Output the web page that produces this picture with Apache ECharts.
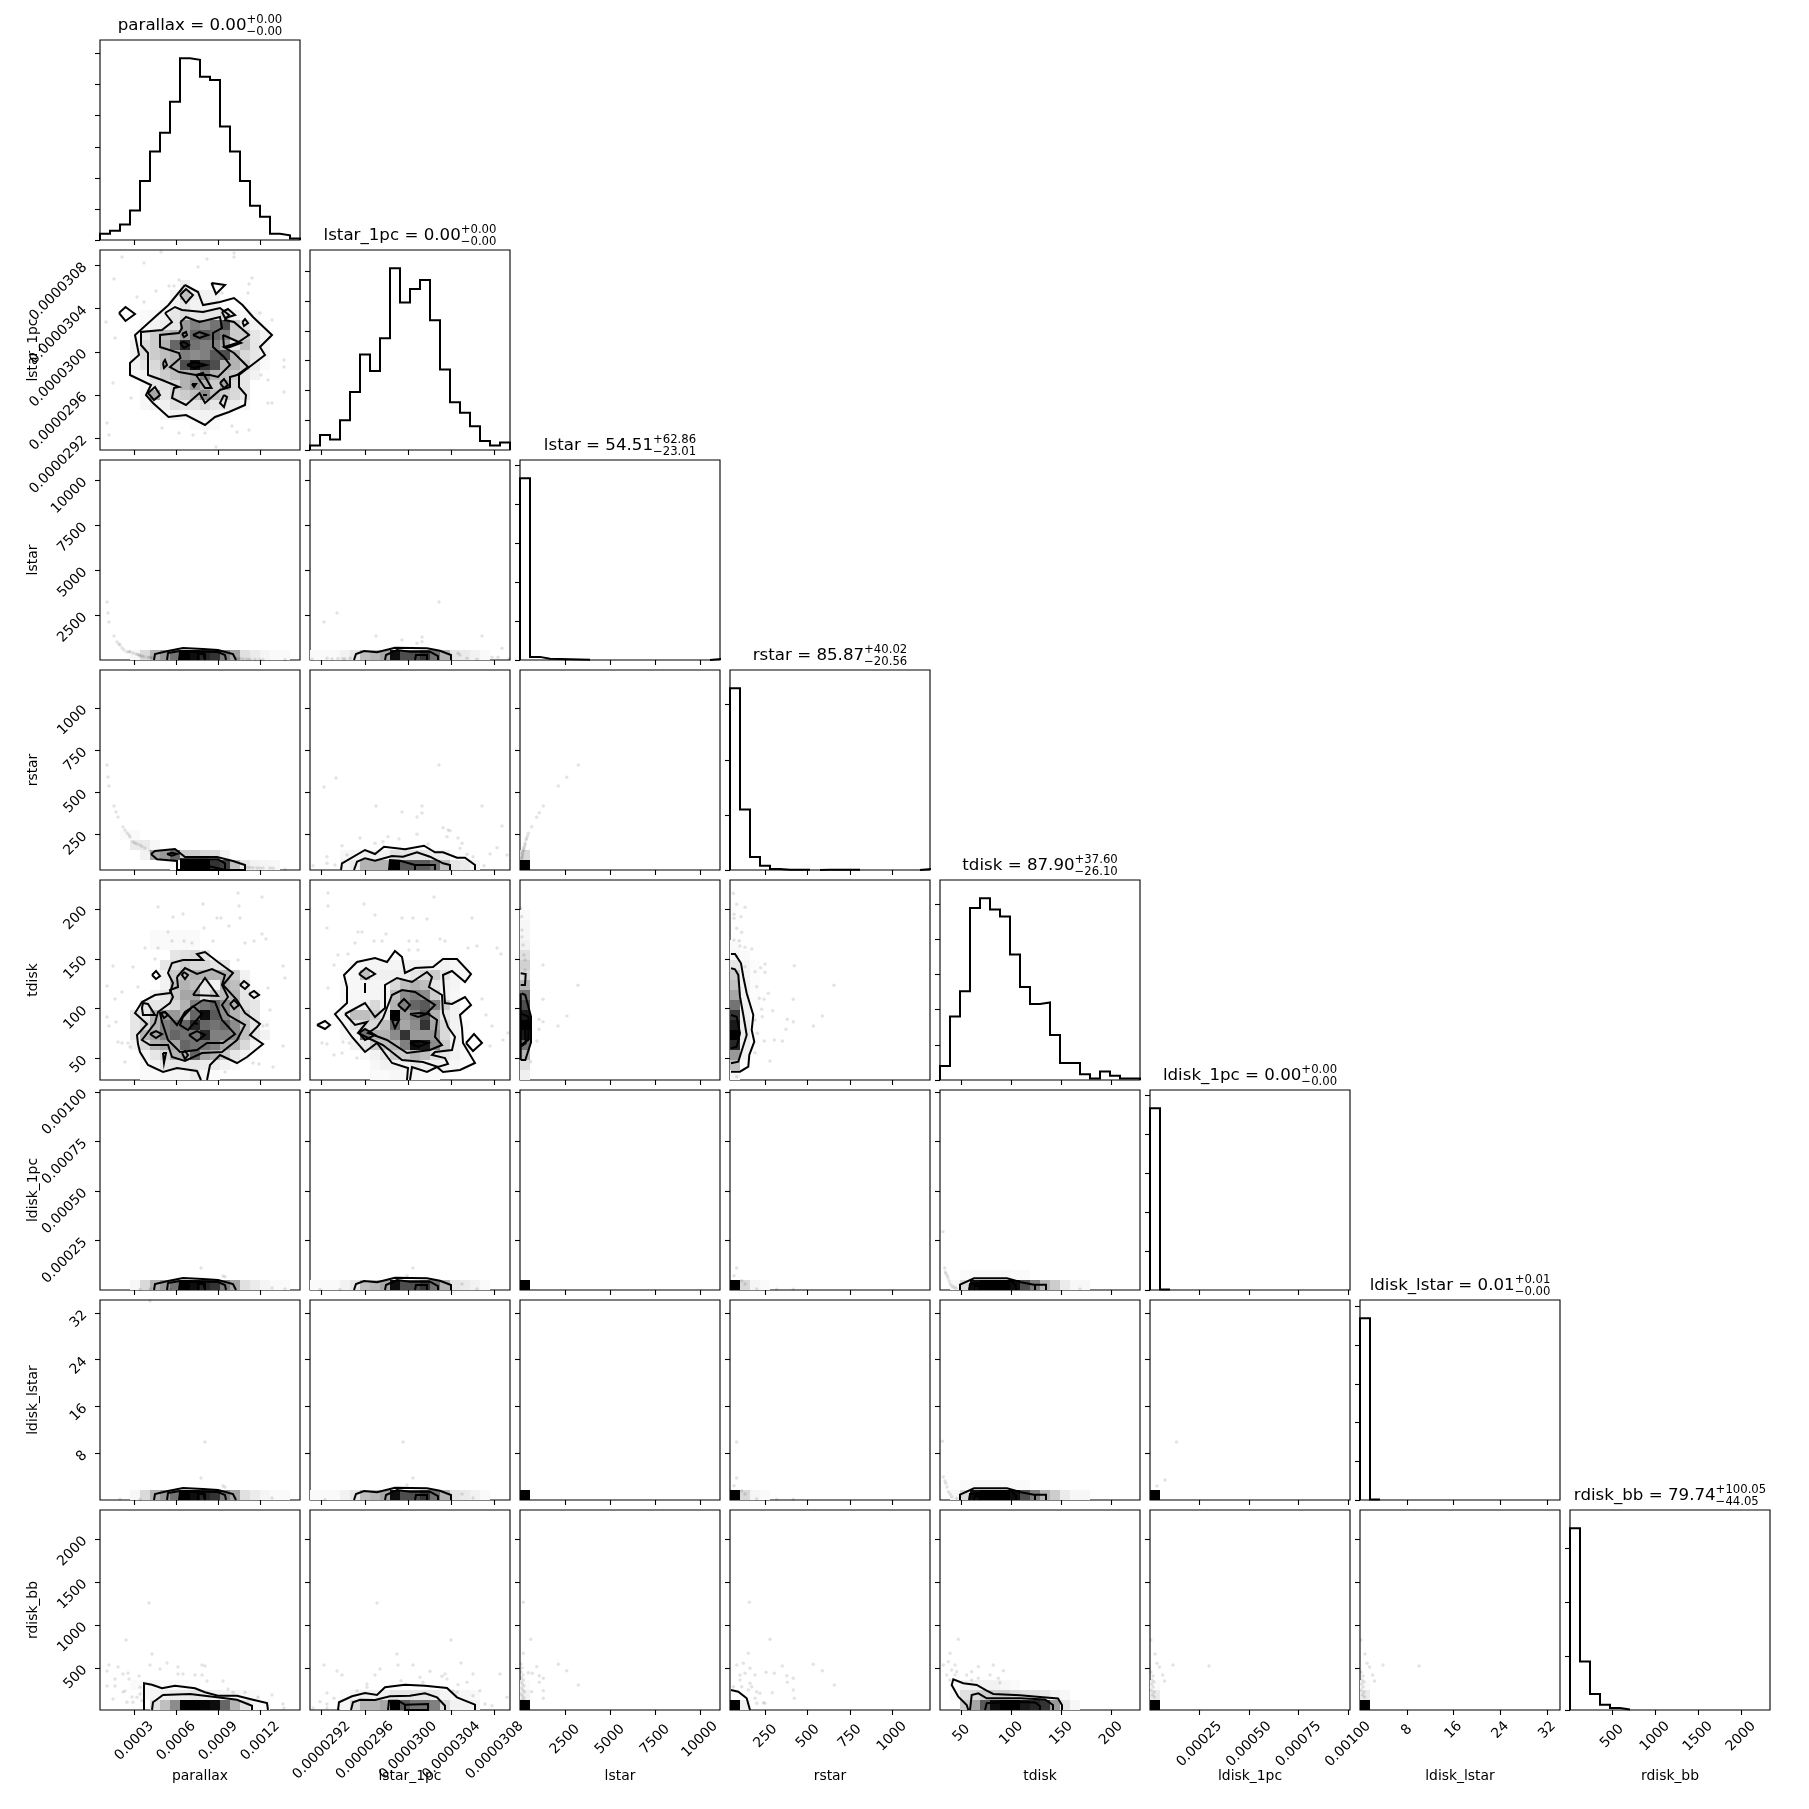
<!DOCTYPE html>
<html><head><meta charset="utf-8">
<style>html,body{margin:0;padding:0;background:#fff}#c{width:1809px;height:1809px}</style>
<script src="https://cdn.jsdelivr.net/npm/echarts@6/dist/echarts.min.js"></script>
</head><body><div id="c"></div>
<script>
// ---------- variables and axes ----------
const names=['parallax','lstar_1pc','lstar','rstar','tdisk','ldisk_1pc','ldisk_lstar','rdisk_bb'];
const medians=['0.00','0.00','54.51','85.87','87.90','0.00','0.01','79.74'];
const plusErr=['+0.00','+0.00','+62.86','+40.02','+37.60','+0.00','+0.01','+100.05'];
const minusErr=['\u22120.00','\u22120.00','\u221223.01','\u221220.56','\u221226.10','\u22120.00','\u22120.00','\u221244.05'];
const axisMin=[0.000055,0.000029092,10,39,28.5,0,0,12];
const axisMax=[0.0014836,0.0000309417,11120,1225,229,0.00101,34.2,2337];
const tickValues=[[0.0003,0.0006,0.0009,0.0012],[0.0000292,0.0000296,0.00003,0.0000304,0.0000308],[2500,5000,7500,10000],[250,500,750,1000],[50,100,150,200],[0.00025,0.0005,0.00075,0.001],[8,16,24,32],[500,1000,1500,2000]];
const tickLabels=[['0.0003','0.0006','0.0009','0.0012'],['0.0000292','0.0000296','0.0000300','0.0000304','0.0000308'],['2500','5000','7500','10000'],['250','500','750','1000'],['50','100','150','200'],['0.00025','0.00050','0.00075','0.00100'],['8','16','24','32'],['500','1000','1500','2000']];

// ---------- 1D histograms (counts in 20 bins) ----------
const histParallax=[4,6,10,19,38,57,69,89,117,116,105,103,73,57,38,22,15,4,3,1];
const histLstar1pc=[3,10,7,20,39,64,53,75,122,99,108,114,87,54,32,25,16,6,3,5];
const histLstar=[932,16,6,5,4,3,1,0,0,0,0,0,0,0,0,0,0,0,0,5];
const histRstar=[660,220,47,15,4,1,1,1,0,1,1,1,1,0,0,0,0,0,0,3];
const histTdisk=[10,45,63,122,129,121,116,89,66,54,55,32,12,12,4,1,6,3,1,1];
const histLdisk1pc=[936,3,0,0,0,0,0,0,0,0,0,0,0,0,0,0,0,0,0,0];
const histLdiskLstar=[940,3,0,0,0,0,0,0,0,0,0,0,0,0,0,0,0,0,0,0];
const histRdisk=[674,180,59,19,7,2,0,0,0,0,0,0,0,0,0,0,0,0,0,0];
const histograms=[histParallax,histLstar1pc,histLstar,histRstar,histTdisk,histLdisk1pc,histLdiskLstar,histRdisk];
const histTicks=[[0,20,40,60,80,100,120],[0,20,40,60,80,100,120],[0,200,400,600,800,1000],[0,200,400,600],[0,25,50,75,100,125],[0,200,400,600,800,1000],[0,200,400,600,800,1000],[0,200,400,600]];

// ---------- 2D panels: cells are [binY, firstBinX, darkness% ...]; contours and points are in histogram-bin units ----------
const cellsL1Par=[[16,8,8],[15,7,5,25,8,5,5],[14,6,3,5,10,5,5,5],[13,4,2,3,5,10,15,10,10,10,15,5,3,3],[12,4,2,5,8,10,40,50,45,55,70,20,10,5,2],[11,3,2,10,20,25,30,40,60,65,60,50,20,20,10,5],[10,3,5,15,20,30,60,85,55,50,50,35,10,25,10,5],[9,3,5,15,20,25,30,50,45,50,65,70,30,15,10,5],[8,3,5,10,15,25,30,70,95,80,70,30,30,20,8,2],[7,3,3,5,12,20,25,30,35,50,30,25,20,10,5],[6,4,3,10,12,15,30,40,30,20,35,15,10],[5,4,3,35,10,15,20,25,45,25,20,15,10],[4,4,3,5,6,12,10,10,15,10,10,8,3],[3,6,3,5,4,4,5,5,3],[2,9,2,3,2]];
const contL1Par=[
[8.5,16.5,9.8,15.8,10.3,14.5,12,14.8,13.4,15.2,14.25,14.5,15.3,13.3,17.2,11.5,16,10.3,16.5,9.5,14.8,8.2,13.9,7.5,13.9,6.3,14.6,5.5,14.5,4.5,12.9,3.8,11.5,3.3,10.5,2.5,8.6,3.5,6.85,3.3,5.3,4.7,4.6,5.5,5.1,6.5,3,7.5,3,8.7,3.9,9.5,3.5,11.5,5.5,13.3,6.85,14.5],
[6.5,13.7,7.5,14.3,8.2,14,10.3,13.8,12,14.2,12.9,13.5,12.5,13,13.4,12.8,14.9,11.5,13.7,10.7,12.4,10.3,13.4,9.7,14.8,8.3,13.7,7.5,13,7.3,13,6.3,12,6,10.5,4.7,9.95,5.7,8.6,4.5,7.2,5.2,7.4,6.2,7.9,6.3,6.2,7,4.8,7.5,4.8,9.7,4.1,10.5,4.1,11.8,6.2,12,7.2,12.8],
[8.05,12.8,8.6,13.3,9.95,12.8,12,13.3,12.2,12.2,11.3,11.7,11.3,10.3,12.4,9.3,13,8.5,11.8,7.3,11,7.5,9.6,7.5,7.9,7.8,7,8.3,8.05,9.2,7.9,9.7,6,10.3,6,11.5,7.9,11.7,8.2,12.2],
[9.3,11.5,9.95,11.8,10.8,11.5,9.95,11.2],[8,10.7,8.4,10.8,8.9,10.5,8.4,10.2],[6.3,8.7,6.5,9,6.7,8.5,6.4,8.2],[8.7,8.5,9.4,8.8,10.6,8.5,9.4,8.2],[8.2,11.6,8.6,11.8,8.7,11.5,8.4,11.3],[12.3,11.5,14.1,10.7,13,10.3,12.4,10.3],[8,15.5,8.6,16.1,9.3,15.5,8.6,14.7],[11.15,16.7,12.5,16.5,11.6,15.6],[1.9,13.7,2.55,14.3,3.5,13.6,2.55,12.9],[12.2,13.8,12.8,14.1,13.5,13.5,12.5,13.2],[14.25,12.8,14.5,13.1,14.8,12.7,14.4,12.4],[9.6,7.5,10.3,7.7,11.15,6.2,10.5,6.2],[9.2,6.6,9.6,6.6,9.4,6.3],[12,6.7,12.4,7.1,12.8,6.5,12.4,6.2],[4.8,5.7,5.5,6.3,6,5.5,5.4,5],[10.3,5.5,10.7,5.5],[12.4,5.5,12.7,5.3,12.4,4.3,12,4.7]];
const ptsL1Par=[2.2,19.3,6.1,19.8,13.4,19.7,13.4,19.3,4.4,18.7,9.8,18.3,10.7,19.1,1.4,17.1,7.9,17,15.2,17.2,5.6,15.9,6.9,16.4,7.4,16.4,14.9,16.6,14.8,15.7,12.2,15.7,3.7,15.3,4.4,14.8,17.2,13,16,13.7,.6,12.8,1.5,11.2,17,11.3,1.3,6.7,18.4,9,18.4,8.3,16.8,7,16.1,7.5,18.4,5.8,3.1,5.2,16.8,4.7,17.2,4.7,.7,2.7,.9,1.5,6.2,2.2,7.9,1.7,9.3,1.5,10.5,1.7,13.7,1.8,14.9,2,11.6,.3,13.2,2.4];

const cellsTdPar=[[14,5,2,2,2,2,2],[13,5,2,2,2,2,2],[12,7,10,12,15,10],[11,6,10,12,20,15,15,10,10],[10,6,5,20,25,30,30,30,30,20,5],[9,6,5,25,30,25,10,5,30,25,10],[8,5,5,10,20,35,35,10,20,25,30,10,5],[7,4,10,10,10,15,30,50,55,60,45,30,12,10],[6,3,10,10,30,40,40,30,60,95,65,45,30,20,10],[5,3,10,15,30,50,55,60,85,60,55,60,45,25,10,2],[4,3,10,30,35,50,60,55,55,85,50,50,45,25,10,5],[3,3,5,15,30,35,35,60,55,55,50,35,30,15,5],[2,4,5,10,15,30,30,60,35,30,20,10,5],[1,4,3,5,10,10,10,10,8,8,5,3],[0,4,2,2,3,4,4,8,3,2]];
const contTdPar=[
[10.1,0,9.7,.9,7.7,1.2,6.3,.8,4.8,1.5,4,2.8,3.8,3.6,3.7,4.5,4.7,5.6,3.5,6.7,4.2,7.8,5.5,8.5,7,8.7,7.3,9.7,6.8,10.7,7.2,11.7,8.3,12,10.3,12,9.7,12.6,10.5,12.8,11.8,11.8,13.3,10.7,12.3,9.5,13.7,8,14.5,6.7,16,5.6,15,4.5,16.3,3.6,14.7,2.3,13.7,1.7,12,2.5,11,1.5,10.7,0],
[7.7,10.3,8.5,11.2,9.7,10.6,11.2,11.1,12.5,10.5,12.2,9.5,12.8,8.3,12.2,7.5,12.8,6.5,14.5,5.5,13.7,4,12.2,2.8,10.2,2.7,8.5,1.9,7.2,2.3,6.8,3.5,5,3.5,4.2,4,5.5,5.7,5.8,6.8,7,7.7,7.3,8.3,7,9,7.8,9.3],
[10.3,8,11.5,7.8,12.2,6,13.5,4.6,12.3,3.7,10.7,3.7,9.7,3,8,2.8,6.8,4,6.2,5.8,6,6.7,6.5,6.8,7,6.3,7.7,5.5,8.5,6.8],
[9.3,7.4,10.2,6.6,9.5,5.8,8.8,5,8,5.5,8.3,6.3],
[5.2,10.5,5.6,10.9,6,10.4,5.6,10.1],[14,9.5,14.4,9.9,14.9,9.5,14.5,9.1],[14.9,8.6,15.4,8.9,15.9,8.5,15.4,8.2],[13,7.6,13.4,8,13.9,7.5,13.4,7.1],[9.3,8.5,10.5,10.2,11.8,8.4],[8.4,10.8,8.8,10.5,8.5,10.1,8.2,10.5],[4.3,7.7,4.8,7.6,5.5,6.5,4.3,6.5,4.2,7.2],[6.1,6.7,6.5,6.8,6.8,6.5,6.4,6.2],[5,4.6,5.6,4.9,6.2,4.6,5.6,4.2],[8.9,4.5,9.7,4.9,10.5,4.5,9.7,3.9],[8.2,2.7,8.5,2.9,8.8,2.5,8.5,2.1],[6.3,2.7,6.6,2.7,6.4,1.7],[9.4,5.7,9.8,5.6]];
const ptsTdPar=[5.8,17.3,10.3,17.6,13.8,18.7,16.2,18.3,13.9,17.4,7.3,16.3,8.3,16.6,11.7,16.2,12.1,16.2,12.9,15.4,14,16.2,6.8,14.8,10.4,15.2,16.2,14.6,5.8,13.2,4.5,13.2,7.2,13.9,8.4,13.9,9.2,13.7,11.3,13.9,14.5,13.7,15.4,13.9,16.6,14.1,13.8,12,3.3,11.3,1.3,11.4,18.3,11.4,5.5,12.1,18.5,10.2,16.8,9.2,.7,9.4,2.2,8.8,1.5,8.1,3.8,9.3,16.3,5.4,17,7,16.7,5.5,18.3,3.4,17.3,1.3,15.9,1.6,15.3,1.7,12.5,.8,2.5,1.8,1.8,3.8,2.2,3.7,.9,5.4,1.6,5.8,.7,6.3,3,3.3,2.8,3.7];

const cellsTdL1=[[11,4,3,4,4,4,4,5,5,4,4,5,3,3],[10,3,0,3,25,6,6,6,6,10,15,20,10,4,3],[9,3,3,3,4,4,4,15,25,30,25,10,5,4],[8,3,3,3,4,4,5,25,45,50,45,20,5,3],[7,3,3,4,6,15,6,30,50,60,65,50,20,5],[6,2,2,5,25,25,20,10,100,40,50,70,30,10,5],[5,3,4,10,15,15,25,60,35,45,80,35,15,5,2],[4,3,3,5,55,30,30,45,80,40,40,40,15,5],[3,4,5,10,20,25,30,50,95,90,45,20,5,3],[2,5,3,5,10,20,20,30,25,12,10,5,3],[1,6,3,5,5,5,10,6,6,4,3,2],[0,6,2,2,3,3,3,2,2]];
const contTdL1=[
[9.7,0,9.8,1.2,8.2,1.7,6.7,3.7,5.5,2.8,4.2,4.3,3.2,5.7,2.5,6.6,3.7,7.7,3.7,9.3,3.4,10.5,4.7,11.8,6.5,12.2,7.7,11.8,8.5,12.9,9.2,12.3,9.5,10.7,10.5,11.2,12.3,11.3,13.3,12.1,14.7,12.1,16.1,10.6,15.5,9.8,14.2,10.9,13.3,10.5,13.5,7.7,14.2,7.6,15.5,8.3,16.1,7.5,15,6.5,15.2,5.2,15.3,3.7,16.5,1.7,15,1,13.3,.8,12.7,1.3,11.7,.8,10.2,1.3,10,0],
[3.5,6.6,5.5,7.7,6.5,6.3,7.5,7.2,7.5,9.5,8.7,10.2,10.2,9.8,11.7,10.8,12.2,10.3,11.9,9.3,13.2,8.5,13.3,6.7,13.8,5.3,14.5,4.3,14.2,3,12.5,2.8,12.2,2.5,13.5,2.2,13.8,1.6,12.8,1.3,11.3,1.8,9.2,2,7.3,3.5,5.8,4.2,4.8,4.7,5.7,5.8,4.5,5.5],
[7.3,6.2,8.2,8.5,9.2,9,10.5,8.8,12.5,7.5,11.7,6.7,12.7,6,12.5,4.3,13.2,3.5,12,3,9.7,2.7,7.7,4,5.8,4.7,6.7,5.3],
[4.9,4.7,5.5,5.1,6.5,4.5,5.5,4],[8.8,7.5,9.4,8.1,10,7.5,9.5,6.9],[10,6.6,11,6.7,11.7,6.6,10.8,6.3],[10,3.7,10.8,3.9,11.8,3.7,10.8,3.3],[5.5,9.7,5.5,8.7],[.7,5.5,1.5,5.9,2,5.5,1.5,5.1],[4.9,10.6,5.6,11.2,6.5,10.6,5.6,10.1],[15.6,3.7,16.4,4.6,17.2,3.7,16.3,2.9],[8.2,6,8.5,5.2,8.9,6]];
const ptsTdL1=[1.8,18.7,12.4,18.3,1.8,17.4,5.4,17.6,6.5,16.5,1.7,15.2,4.8,14.8,5.2,14.8,7.6,14.6,9.2,16.2,10.3,16.2,11.7,16.1,16.2,16.2,4.5,13.7,6.4,13.9,7.2,13.9,9.9,13.9,10.7,13.9,13,14.1,13.5,13.9,15.8,13.2,16.7,13.4,18.7,13.2,19.1,12.6,9.9,13,10.8,13,3.8,12.6,2.8,12.5,2.4,11.5,1.8,9.2,17.2,8.1,17.6,6.5,18.2,5.4,19.8,4.7,19.3,4,18,3.4,2.4,2.5,3.2,2.7,1.2,3.7,1.7,3.6,3.3,3.8,3.9,3.7,4.7,2.2];

const cellsLowPar=[[0,3,3,15,30,40,55,100,95,85,80,50,35,12,8,4,2,2]];
const cellsLowL1=[[0,0,2,2,2,5,10,25,28,35,95,70,70,80,55,30,10,8,5,2]];
const contLowPar=[[5.4,0,5.5,.6,6.8,.9,8.3,1.2,10.3,1.1,11.8,1,13.3,.6,13.6,0],[6.7,0,6.8,.7,8,.9,11.8,.8,12.5,.5,12.6,0],[7.9,0,8,.8,10.3,.8,10.5,0],[9.8,0,9.8,.6,10.5,.6,10.5,0]];
const contLowL1=[[4.4,0,4.6,.6,5.4,.9,6.7,.77,8.5,1.23,11.7,1.17,13,.93,14.1,.5,14.1,0],[7.5,0,7.6,.5,8.7,1,10,.83,12,.83,12.8,.4,12.8,0],[10.5,0,10.6,.5,11.7,.5,11.7,0]];
const ptsLstarPar=[.7,5.8,.8,4.7,.9,3.8,1.4,2.4,1.7,1.8,2.2,1.2,2.7,.8,3.3,.7,4,.4,4.8,.27,13.7,.13,14.7,.07,16.3,.03,18.5,.02,1.9,1.6,2,1.5,2.4,1,2.9,.85,3,.8,3.6,.6,3.8,.55,3.9,.5,4.4,.33,4.2,.4,5,.25,5.2,.22,14,.15,14.3,.1,15,.07,15.5,.05,16,.05];
const ptsLstarL1=[12.9,5.8,2.7,4.7,1.4,3.8,6.6,2.4,9.2,2,11.2,2.3,11.2,1.83,17.2,2.4,10.7,1.67,19.2,1.17,14.8,.67,15,.5,15.7,.17,16.7,.07,.2,.07,1.7,.17,3.3,.13,4,.17,19.9,.13,18.2,.27,18.8,.27,2.2,.1,2.8,.15,3.5,.1];

const cellsRsPar=[[3,2,2,2],[2,3,8,8,3],[1,4,5,35,40,60,20,20,15,15,5],[0,7,2,100,100,100,80,75,25,10,5,4,3]];
const contRsPar=[[5.1,1.6,5.5,1.9,7.5,2.1,8.5,1.3,11.7,1.3,13.3,.9,14.5,.5,14.5,0,7.7,0,7.7,.9,5.7,1.07],[8,1.07,11.8,1.07,12.5,.67,12.5,0],[9.8,0,10,.5,10.5,.57,10.5,0],[6.7,1.6,7.2,1.73,7.7,1.6,7.2,1.43]];
const ptsRsPar=[.7,10.5,.8,9.3,.9,8.4,1.4,6.4,1.6,5.8,1.8,5.3,2.3,4.3,2.7,3.7,3,3.3,3.3,2.8,4,2.5,4.5,2.2,5,1.9,14.7,.27,15.3,.23,16.3,.2,17.3,.17,18.5,.07,2.5,4,3.5,2.7,3.7,2.6,4.2,2.35,2.9,3.5,15,.25,15.7,.2,16,.2,17,.2];
const cellsRsL1=[[1,3,3,4,6,6,6,12,10,10,10,8,6],[0,3,5,8,30,30,30,100,65,65,65,55,25,10,8,5]];
const contRsL1=[[3.1,0,3.2,.67,5.5,2,6.5,1.6,7.4,2.33,9.5,2.07,11.4,2.43,12.5,1.77,13.3,1.77,14.7,1.23,15.5,1.23,16.5,.5,16.5,0],[4.4,0,4.7,.83,5.5,1.17,6.5,.93,8.2,1.4,9.3,1.33,10.7,1.77,12,1.33,13.3,.67,14,.5,14,0],[7.9,0,8,1,9,.93,10.5,.5,12.5,.5,12.5,0],[10.5,0,10.5,.5]];
const ptsRsL1=[12.9,10.5,2.6,9.2,1.4,8.3,6.6,6.4,9.2,5.8,11.2,6.4,11.2,5.7,17.2,6.4,10.7,5.3,19.2,4.4,5,3.2,3.2,2.43,3.7,1.5,7.8,3.33,8.9,3.1,11.8,2.6,13.3,4.23,13.8,4,13.7,3.33,14,3.93,14.8,3.2,15.2,2.67,15,2.17,18.7,2.23,19.7,1.5,16.3,1.33,15.7,1.57,18,1.6,17.4,.43,1.7,.67,1.7,1.33,.3,.43,2.5,.5,7.3,2.83,6.5,2.67,10.7,3.57];
const cellsCorner=[[0,0,100]];
const cellsRsLstar=[[1,0,15],[0,0,100]];
const ptsRsLstar=[5.83,10.5,4.67,9.27,3.83,8.4,2.33,6.4,1.93,5.73,1.67,5.27,1.17,4.33,.83,3.67,.67,3.17,.5,2.67,.33,2.17,.23,1.67,.17,1.17,.5,2.5,.45,2.3,.4,2,.3,1.9,.28,1.5,.2,1.3,.15,.9,.6,3,.75,3.4];

const cellsTdLstar=[[16,0,2],[15,0,3],[14,0,3],[13,0,5],[12,0,12],[11,0,18],[10,0,15],[9,0,30],[8,0,55],[7,0,70],[6,0,90],[5,0,100],[4,0,90],[3,0,55],[2,0,30],[1,0,12],[0,0,6]];
const contTdLstar=[[.07,2,.53,2,1.1,3.77,1.1,6.33,.53,8.5,.17,8.67],[.07,9.5,.5,9.5,.57,10.6,.07,10.67],[.07,3.5,.83,4,.83,6.33,.07,6.67],[.07,5.5,.5,5.33,.57,3.67,.07,3.33],[.07,2,.07,8.67]];
const ptsTdLstar=[2.3,11.5,5.8,9.47,2.3,8.07,1.9,6.07,2.3,5.83,4.7,6.4,3.8,5.4,1.9,5.07,1.7,3.9,1.07,1.83,.17,16.33,.07,17.17,.2,14.3,.3,13.5,.4,12.5,.5,12,.2,15,.5,11];
const cellsTdRs=[[13,0,2],[12,0,3,2],[11,0,10,4,1],[10,0,20,4,1],[9,0,25,5,1],[8,0,35,5,1],[7,0,55,6,1],[6,0,80,6,1],[5,0,90,8,1],[4,0,100,8,1],[3,0,85,6,1],[2,0,40,5],[1,0,25],[0,0,3]];
const contTdRs=[[.1,.83,1,.83,1.83,1.33,1.93,2.5,2.43,3.83,2.17,5,2.33,6.5,1.67,8.67,1.33,10.33,1.1,11.67,.5,12.6,.1,12.6],[.1,1.67,.83,1.83,1.67,4.5,1.33,6.5,1,8.33,.83,10.5,.5,11.07,.1,11.17],[.1,3.17,.67,3.33,1,4.67,.67,6.33,.1,6.5]];
const ptsTdRs=[.33,18.67,.67,17.57,1.5,17.27,.4,16.57,1.1,16.33,.4,16.17,1.17,14.77,.67,15.17,.4,14,.93,13.93,1.5,13.27,1,13.4,2.17,13.1,.67,12.4,1.5,11.33,3.5,11.6,6.43,11.43,2.5,10.83,3.07,11.23,3.5,10.77,2.67,9.33,10.4,9.47,3.83,8.67,2.93,8.17,3.4,8.07,6.33,8.07,3.17,7.07,4.27,6.93,3.23,6.33,5.73,6.07,6.33,5.83,9.23,6.4,2.5,6,5.6,5.07,8.33,5.4,2.73,4.67,3.43,3.9,4.43,4,5.23,3.9,2.5,2.73,4,1.9,.67,.33];

const ptsL5Par=[10.1,2.2,12.3,1.4,12.5,1.33,17.2,.2,18.5,.1,5,.1,7,.05,4,.05];
const ptsL6Par=[10.5,5.8,10.1,2.2,12.3,1.43,12.5,1.27,17.2,.2,5,19.9,2,.07,4,.05];
const ptsL5L1=[10.3,2.2,9.7,1.43,15.2,.6,16.7,.1,1,.05,3,.05];
const ptsL6L1=[9.3,5.8,10.3,2.2,9.7,1.5,15.2,.6,16.3,.2,1.5,.05];
const cellsLowRs=[[0,0,100,15,4,2]];
const ptsLowRs=[.67,2.2,.4,1.43,1.17,.93,1.5,.6,2.67,.1,4.67,.07,6.33,.07];
const ptsL6Rs=[.67,5.8,.67,2.2,.4,1.43,1.17,.93,1.5,.6,2.67,.1,4.67,.07,6.33,.07];
const cellsLowTd=[[1,2,2,3,3,3,3,2,2],[0,1,3,15,95,100,100,100,95,70,50,30,20,8,3,3]];
const contLowTd=[[2,0,2,.53,3.4,1.17,6.7,1.17,8.1,.77,9.4,.53,10.6,.53,10.6,0],[2.9,0,3,.6,7.1,.93,7.6,.43,7.6,0],[9.5,0,9.5,.53],[3.4,0,3.5,.43,3.9,.43,4,0],[5,0,5,.43,5.5,.43,5.5,0]];
const ptsL5Td=[.3,5.83,.47,2.2,.73,1.43,1,.6,1.4,.27,14,.1,.53,1.8,.6,1.63,.8,1.2,.9,.9,1.2,.4,1.6,.17];
const ptsL6Td=[.23,5.87,.33,2.3,.6,1.67,.83,.83,1.17,.33,1.67,.17,.5,1.9,.7,1.3,1,.6];

const cellsRdPar=[[2,3,2,3,3,2,2,2],[1,4,3,4,6,8,8,10,8,6,5,4,2,2],[0,5,12,25,45,100,100,98,95,60,30,12,3,2]];
const contRdPar=[[4.4,0,4.4,2.67,5.2,2.53,6.2,2.17,7.5,2.43,9.5,2.17,10.5,1.77,11.8,1.43,13.7,1.43,15.3,1.03,16.7,.7,16.8,0],[5.2,0,5.3,.77,6.3,1.5,9,1.6,11.7,1.27,13.7,1.03,15.2,.43,15.2,0]];
const ptsRdPar=[4.9,10.7,2.6,7,5.2,5.6,.9,4.5,1.8,4.3,.7,3.9,2.8,3.7,2.3,3.6,3.9,3.4,6,4.1,5,4.5,6.7,4.7,7.8,4.3,10.2,4.5,10.5,4.4,8.3,3.6,7.8,3.6,9.5,3.5,10.2,3.5,10.7,2.9,12.3,2.9,1.5,3.1,.7,2.4,1.5,2.4,2.9,3.1,2.5,1.9,1.3,1.1,2.3,1.8,3.2,1.3,4,1.6,3.3,.77,2.7,.77,4,2.27,3.7,1.27,4.2,.93,12.8,2.1,13.3,1.77,17.2,1.5,15.8,1.27,18.3,.6,18.4,.2,14.5,1.77];
const cellsRdL1=[[1,3,2,4,6,6,6,10,10,10,10,8,4,3,3,2],[0,3,4,15,30,30,35,100,65,55,55,50,15,5,5,5]];
const contRdL1=[[2.8,0,2.9,.77,4.2,1.37,5.5,1.7,6.7,1.5,7.5,2.27,9.5,2.53,11.5,2.43,13.7,2.2,14.7,1.27,16.5,.53,16.5,0],[4.1,0,4.3,.77,5,1.03,6.5,1,8,1.37,10,1.43,11.5,1.67,12.7,1.27,13.5,.43,13.5,0],[7.8,0,7.9,.93,8.8,.93,9.5,.53,11.8,.6,11.8,0,9.5,0,9.5,.53]];
const ptsRdL1=[6.7,10.7,14.1,7,8.7,5.6,1.4,4.5,15.1,4.7,10.3,4.5,8.8,4.5,19,3.6,2.7,3.9,3.2,3.5,7,4.1,6.5,3.5,12,3.87,13.5,3.6,13.2,3.37,9.1,2.93,11,3.27,11.3,2.77,16.3,3.6,15.7,2.77,14.8,2.53,5.7,2.6,5.7,2.27,4.7,1.93,1.7,1.7,2.4,1.17,17,1.93,16.3,1.43,17.5,.6,19.7,1.27,1,.83,.3,.2,14.7,1.77,14.3,1.93,13.7,3.1,18.2,.43,1.7,.6,1.7,.2];
const cellsRdLstar=[[2,0,2],[1,0,5],[0,0,100]];
const ptsRdLstar=[.33,10.77,1.07,7.07,.33,5.67,1.67,4.33,3.83,4.57,4.67,3.93,.83,3.73,1.23,3.67,1.93,3.43,2.33,3.17,1.93,2.77,2.33,1.93,2.33,1.17,5.83,2.5,1.17,1.83,.1,4.6,.2,4.2,.1,3.8,.3,3.5,.15,3.2,.35,3,.1,2.8,.25,2.6,.4,2.4,.15,2.2,.3,2,.45,1.8,.1,1.6,.25,1.4,.4,1.2,.2,1,.35,.9];
const cellsRdRs=[[0,0,100,6]];
const contRdRs=[[.1,2,.83,1.83,1.67,1.17,2,0]];
const ptsRdRs=[1.93,10.77,4,7.07,1.83,5.67,1.33,4.67,.67,4.5,2,4.17,2.5,3.5,1.5,3.67,1,3,2,2.67,2.67,1.83,3.33,.73,3.6,3.77,4.43,3.67,5.23,4.4,5.67,3.43,6.33,3.17,5.73,2.77,4.23,1.73,6.33,2,6.43,1.17,8.33,4.57,9.23,3.93,10.43,2.5,3.5,.67,2.67,.67,3,1.67,2.5,1.17,1.17,2.33,1.83,2,2.17,2.33,1,3.5,.33,2.33];
const cellsRdTd=[[2,1,2,5,6,5,5,3,2],[1,1,3,12,15,20,20,20,15,12,12,10,5,3],[0,2,20,35,65,95,100,100,90,85,80,40,10,3]];
const contRdTd=[[2.83,0,2.67,.5,1.83,1.33,1.17,2.5,1.33,3.07,2.33,2.67,3.67,2.5,4.67,1.93,5.33,1.6,8,1.47,10,1.3,11.8,1.15,12.2,.5,12.2,0],[3,0,3.17,1.5,3.83,1.67,4.67,1.17,8,1.17,10.5,1.05,11.3,.5,11.3,0],[4.5,0,4.67,.67,7,.83,9.5,.75,10,.4,10,0]];
const ptsRdTd=[1.83,7.07,1,5.67,.33,4.5,.83,4.83,1.5,4.5,1.17,4,1.67,3.83,.67,3.5,1,3,1.5,3.5,3.83,4.33,5.33,4.5,6.33,3.93,5,3.5,5.83,3.17,6,2.73,2.67,3.5,3.17,3.83,3.83,3.17,3.17,3];
const cellsLdisk=[[2,0,2],[1,0,8],[0,0,100]];
const ptsRdLd=[.1,7,.5,5.6,.7,4.67,.95,4.3,1.27,3.5,1.45,2.9,2.3,4.5,5.9,4.4,.1,3.8,.3,3.4,.2,3,.4,2.8,.15,2.6,.3,2.3,.1,2,.4,1.8,.25,1.5,.45,1.3];
const ptsL6Ld=[2.65,5.8,.7,1.4,1.5,2];

const panels={
 '1,0':[cellsL1Par,contL1Par,ptsL1Par],
 '2,0':[cellsLowPar,contLowPar,ptsLstarPar],'2,1':[cellsLowL1,contLowL1,ptsLstarL1],
 '3,0':[cellsRsPar,contRsPar,ptsRsPar],'3,1':[cellsRsL1,contRsL1,ptsRsL1],'3,2':[cellsRsLstar,[],ptsRsLstar],
 '4,0':[cellsTdPar,contTdPar,ptsTdPar],'4,1':[cellsTdL1,contTdL1,ptsTdL1],'4,2':[cellsTdLstar,contTdLstar,ptsTdLstar],'4,3':[cellsTdRs,contTdRs,ptsTdRs],
 '5,0':[cellsLowPar,contLowPar,ptsL5Par],'5,1':[cellsLowL1,contLowL1,ptsL5L1],'5,2':[cellsCorner,[],[]],'5,3':[cellsLowRs,[],ptsLowRs],'5,4':[cellsLowTd,contLowTd,ptsL5Td],
 '6,0':[cellsLowPar,contLowPar,ptsL6Par],'6,1':[cellsLowL1,contLowL1,ptsL6L1],'6,2':[cellsCorner,[],[]],'6,3':[cellsLowRs,[],ptsL6Rs],'6,4':[cellsLowTd,contLowTd,ptsL6Td],'6,5':[cellsCorner,[],ptsL6Ld],
 '7,0':[cellsRdPar,contRdPar,ptsRdPar],'7,1':[cellsRdL1,contRdL1,ptsRdL1],'7,2':[cellsRdLstar,[],ptsRdLstar],'7,3':[cellsRdRs,contRdRs,ptsRdRs],'7,4':[cellsRdTd,contRdTd,ptsRdTd],'7,5':[cellsLdisk,[],ptsRdLd],'7,6':[cellsLdisk,[],ptsRdLd]
};

// ---------- build ----------
const FONT='"DejaVu Sans"';
const ctx=document.createElement('canvas').getContext('2d');
function tw(t,size){ctx.font=size+'px '+FONT;return ctx.measureText(t).width;}
const binX=(v,b)=>axisMin[v]+b*(axisMax[v]-axisMin[v])/20;
const STEP=210,SIZE=200,X0=100,Y0=40,TICK=13.9;
const grid=[],xAxis=[],yAxis=[],series=[],title=[];
const tickStyle={show:true,length:5,lineStyle:{color:'#000',width:1.1}};
function labelCfg(v,show,isY){
  const longest=Math.max(...tickLabels[v].map(t=>tw(t,TICK)));
  return {show,rotate:45,align:isY?'right':'center',verticalAlign:'middle',margin:isY?15:10+(longest+11)*0.3536,color:'#000',fontFamily:FONT,fontSize:TICK,hideOverlap:false,showMinLabel:true,showMaxLabel:true,
    customValues:tickValues[v],formatter:val=>{let k=0,b=1e99;tickValues[v].forEach((t,i)=>{const d=Math.abs(t-val);if(d<b){b=d;k=i;}});return tickLabels[v][k];}};
}
function renderCell(p,api){
  const a=api.coord([api.value(0),api.value(1)]),b=api.coord([api.value(2),api.value(3)]);
  const g=Math.round(255*(1-api.value(4)/100));
  return {type:'rect',shape:{x:a[0],y:b[1],width:b[0]-a[0],height:a[1]-b[1]},style:{fill:'rgb('+g+','+g+','+g+')'}};
}
function histPath(c){
  const h=histograms[c],d=[];let open=false;
  h.forEach((n,i)=>{
    if(n>0){
      if(!open)d.push([binX(c,i),0]);
      d.push([binX(c,i),n]);d.push([binX(c,i+1),n]);open=true;
    }else if(open){
      d.push([binX(c,i),0]);d.push(['-','-']);open=false;
    }
  });
  if(open)d.push([binX(c,20),0]);
  return d;
}
for(let r=0;r<8;r++)for(let c=0;c<=r;c++){
  const g=grid.length;
  grid.push({left:X0+STEP*c,top:Y0+STEP*r,width:SIZE,height:SIZE,show:true,borderColor:'#000',borderWidth:1.1,backgroundColor:'#fff',containLabel:false});
  xAxis.push(Object.assign({type:'value',gridIndex:g,min:axisMin[c],max:axisMax[c],splitLine:{show:false},axisLine:{show:false},
    axisTick:Object.assign({customValues:tickValues[c]},tickStyle),axisLabel:labelCfg(c,r===7,false)},
    r===7?{name:names[c],nameLocation:'middle',nameGap:59,nameMoveOverlap:false,nameTextStyle:{color:'#000',fontFamily:FONT,fontSize:TICK}}:{}));
  if(r===c){
    const h=histograms[c],ymax=1.1*Math.max(...h);
    yAxis.push({type:'value',gridIndex:g,min:0,max:ymax,splitLine:{show:false},axisLine:{show:false},axisTick:Object.assign({customValues:histTicks[c]},tickStyle),axisLabel:{show:false,customValues:histTicks[c]}});
    series.push({type:'line',xAxisIndex:g,yAxisIndex:g,data:histPath(c),symbol:'none',silent:true,animation:false,clip:true,connectNulls:false,lineStyle:{color:'#000',width:2,join:'miter'}});
    const main=names[c]+' = '+medians[c];
    const wm=tw(main,16.67),ws=Math.max(tw(plusErr[c],11.67),tw(minusErr[c],11.67));
    const cx=X0+STEP*c+SIZE/2,lx=cx-(wm+ws)/2,ty=Y0+STEP*r;
    const ts=(sz)=>({color:'#000',fontFamily:FONT,fontSize:sz,fontWeight:'normal'});
    title.push({text:main,left:lx,top:ty-23,padding:0,textStyle:ts(16.67)});
    title.push({text:plusErr[c],left:lx+wm,top:ty-26,padding:0,textStyle:ts(11.67)});
    title.push({text:minusErr[c],left:lx+wm,top:ty-14,padding:0,textStyle:ts(11.67)});
  }else{
    yAxis.push(Object.assign({type:'value',gridIndex:g,min:axisMin[r],max:axisMax[r],splitLine:{show:false},axisLine:{show:false},
      axisTick:Object.assign({customValues:tickValues[r]},tickStyle),axisLabel:labelCfg(r,c===0,true)},
      c===0?{name:names[r],nameLocation:'middle',nameGap:60,nameMoveOverlap:false,nameTextStyle:{color:'#000',fontFamily:FONT,fontSize:TICK}}:{}));
    const [cells,conts,pts]=panels[r+','+c];
    const pd=[];for(let i=0;i<pts.length;i+=2)pd.push([binX(c,pts[i]),binX(r,pts[i+1])]);
    if(pd.length)series.push({type:'scatter',xAxisIndex:g,yAxisIndex:g,data:pd,symbolSize:3.5,silent:true,animation:false,clip:true,itemStyle:{color:'#000',opacity:0.11}});
    const cd=[];cells.forEach(row=>{for(let i=2;i<row.length;i++){if(row[i]>0)cd.push([binX(c,row[1]+i-2),binX(r,row[0]),binX(c,row[1]+i-1),binX(r,row[0]+1),row[i]]);}});
    if(cd.length)series.push({type:'custom',xAxisIndex:g,yAxisIndex:g,data:cd,renderItem:renderCell,encode:{x:[0,2],y:[1,3]},silent:true,animation:false,clip:true});
    conts.forEach(f=>{
      const d=[];for(let i=0;i<f.length;i+=2)d.push([binX(c,f[i]),binX(r,f[i+1])]);
      if(f.length>4&&f[0]>0.1&&f[1]>0)d.push(d[0]);
      series.push({type:'line',xAxisIndex:g,yAxisIndex:g,data:d,symbol:'none',silent:true,animation:false,clip:true,lineStyle:{color:'#000',width:2,join:'miter'}});
    });
  }
}
const chart=echarts.init(document.getElementById('c'),null,{renderer:'canvas',width:1809,height:1809});
chart.setOption({animation:false,backgroundColor:'#fff',title,grid,xAxis,yAxis,series});
</script></body></html>
